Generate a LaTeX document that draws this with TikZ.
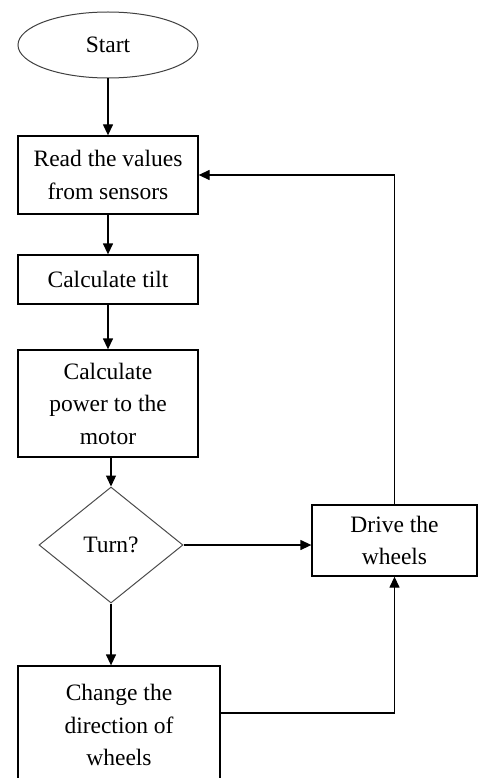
\documentclass[tikz,border=0pt]{standalone}
\usepackage{fontspec}
\setmainfont{Liberation Serif}
\usetikzlibrary{shapes.geometric,arrows.meta}
\begin{document}
\begin{tikzpicture}[x=1pt,y=-1pt,
  every node/.style={font=\fontsize{23.5}{32.5}\selectfont, align=center, inner sep=0pt},
  box/.style={draw=black, line width=1.3pt, rectangle},
  term/.style={draw=black!75, line width=1pt, ellipse, minimum width=180pt, minimum height=66pt},
  decide/.style={draw=black!70, line width=1pt, diamond, minimum width=144pt, minimum height=116pt},
  arr/.style={draw=black, line width=1.3pt, -{Triangle[length=11pt,width=10pt]}},
  conn/.style={draw=black, line width=1.3pt}]
\useasboundingbox (0,0) rectangle (483,778);
\clip (0,0) rectangle (483,778);
\fill[white] (0,0) rectangle (483,778);

\node[term] (start) at (108,45) {Start};
\node[box, minimum width=180pt, minimum height=78pt] (read) at (108,175) {Read the values\\from sensors};
\node[box, minimum width=180pt, minimum height=49pt] (tilt) at (108,279.5) {Calculate tilt};
\node[box, minimum width=180pt, minimum height=107pt] (power) at (108,403.5) {Calculate\\power to the\\motor};
\node[decide] (turn) at (111,545) {Turn?};
\node[box, minimum width=165pt, minimum height=71pt] (drive) at (394.5,540.5) {Drive the\\wheels};
\node[box, minimum width=202pt, minimum height=118pt] (change) at (119,725) {Change the\\direction of\\wheels};

\draw[arr] (start.south -| read.north) -- (read.north);
\draw[arr] (read.south) -- (tilt.north);
\draw[arr] (tilt.south) -- (power.north);
\draw[arr] (power.south -| turn.north) -- (turn.north);
\draw[arr] (turn.east) -- (turn.east -| drive.west);
\draw[arr] (turn.south) -- (turn.south |- change.north);
\draw[arr] (drive.north) |- (read.east);
\draw[arr] ([yshift=12pt]change.east) -| (drive.south);
\end{tikzpicture}
\end{document}
